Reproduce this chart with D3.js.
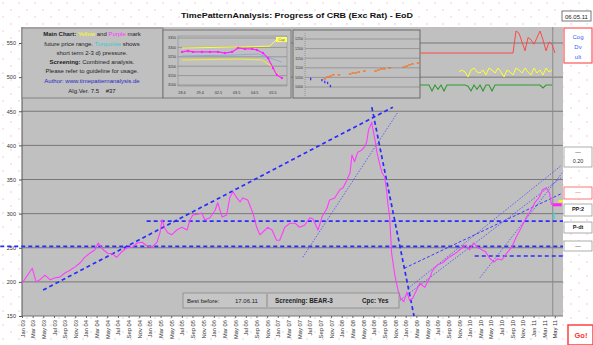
<!DOCTYPE html>
<html>
<head>
<meta charset="utf-8">
<script src="https://cdn.jsdelivr.net/npm/d3@7"></script>
<style>
body { margin: 0; background: #fff; }
svg { display: block; font-family: "Liberation Sans", Arial, sans-serif; }
</style>
</head>
<body>
<svg id="chart" width="593" height="345"></svg>
<script>
// ---------- data ----------
const yTicks = [150, 200, 250, 300, 350, 400, 450, 500, 550];
const tickYears = ["03", "04", "05", "06", "07", "08", "09", "10", "11"];
const tickMonths = ["Jan", "Mar", "May", "Jul", "Sep", "Nov"];

// CRB (exchange rate adjusted), decimal year / value
const crbT = [2003.00,2003.08,2003.16,2003.22,2003.28,2003.36,2003.44,2003.52,2003.59,2003.67,2003.75,2003.83,2003.91,2003.98,
  2004.06,2004.14,2004.19,2004.27,2004.34,2004.41,2004.48,2004.56,2004.64,2004.73,2004.80,2004.88,2004.95,
  2005.03,2005.11,2005.16,2005.19,2005.23,2005.28,2005.34,2005.42,2005.50,2005.58,2005.63,2005.67,2005.75,2005.81,2005.86,2005.94,
  2006.02,2006.06,2006.13,2006.20,2006.25,2006.30,2006.36,2006.41,2006.45,2006.53,2006.61,2006.67,2006.72,2006.80,2006.84,2006.91,2006.98,
  2007.03,2007.11,2007.19,2007.27,2007.34,2007.42,2007.50,2007.55,2007.63,2007.69,2007.77,2007.81,2007.89,2007.97,
  2008.02,2008.08,2008.13,2008.16,2008.20,2008.25,2008.31,2008.36,2008.39,2008.42,2008.47,2008.48,2008.52,2008.55,2008.59,2008.63,2008.67,2008.70,2008.72,2008.75,2008.78,2008.83,2008.88,2008.92,2008.97,
  2009.02,2009.06,2009.11,2009.17,2009.22,2009.30,2009.38,2009.42,2009.50,2009.58,2009.66,2009.73,2009.81,2009.88,2009.94,
  2010.00,2010.06,2010.13,2010.19,2010.25,2010.31,2010.38,2010.44,2010.50,2010.58,2010.66,2010.73,2010.81,2010.89,2010.94,
  2011.02,2011.09,2011.14,2011.20,2011.25,2011.28];
const crbV = [198,209,220,200,203,210,203,206,207,213,217,222,228,236,
  242,247,257,247,242,241,236,244,250,251,257,258,253,
  251,258,273,291,279,272,269,276,280,276,291,298,299,301,291,294,
  305,316,295,298,324,332,323,317,323,320,301,280,269,276,280,276,261,
  261,280,286,286,280,283,294,292,276,295,308,320,323,335,
  338,349,360,386,376,390,393,398,405,423,434,427,408,390,374,360,354,335,316,294,242,210,188,176,171,
  185,173,176,188,198,192,207,217,225,228,235,239,244,250,254,
  247,257,250,247,244,235,229,234,232,242,251,266,280,295,302,
  316,324,335,338,330,313];

// trend lines [t1, v1, t2, v2]
const thickTrends = [[2003.33, 188, 2008.80, 456], [2008.47, 456, 2009.13, 150]];
const mediumTrends = [[2008.98, 220, 2011.45, 330]];
const thinTrends = [[2007.39, 236, 2008.88, 449], [2009.06, 192, 2011.44, 371],
  [2008.91, 173, 2011.45, 354], [2010.16, 206, 2011.45, 360]];
const levelLines = [[2002.66, 252], [2004.95, 289], [2010.08, 238]];

// future price range marks (yellow / purple / turquoise)
const fcYellow = [2011.39, 2011.46, 318];
const fcPurple = [2011.30, 2011.44, 313];
const fcTurq = [2011.32, 302, 292];

// inset 1: last days
const in1Labels = ["28.4", "29.4", "02.5", "03.5", "04.5", "05.5"];
const in1Ticks = [3100, 3150, 3200, 3250, 3300, 3350];
const in1MagX = [0, 0.33, 0.6, 1.1, 1.54, 1.98, 2.36, 2.75, 3.08, 3.46, 3.85, 4.12, 4.45, 4.73, 5.0, 5.22, 5.49];
const in1MagV = [3276, 3281, 3276, 3276, 3276, 3276, 3270, 3276, 3297, 3292, 3292, 3286, 3270, 3243, 3190, 3153, 3137];
const in1YelUpX = [0, 3.19, 4.84, 5.27];
const in1YelUpV = [3297, 3302, 3307, 3350];
const in1YelLoX = [0, 3.19, 4.4, 4.9, 5.3, 5.49];
const in1YelLoV = [3233, 3238, 3233, 3201, 3153, 3132];
const in1BlueX = [0, 3.0, 4.2, 4.8, 5.49];
const in1BlueV = [3254, 3260, 3265, 3244, 3222];

// inset 2: pattern projection
const in2Ticks = [1000, 1050, 1100, 1150, 1200, 1250];
const in2OrangeX = [7, 8, 9, 10, 12, 16, 17, 18, 19, 21, 25, 26, 27, 28, 30, 35, 36, 37, 38, 40];
const in2OrangeV = [1042, 1052, 1057, 1063, 1063, 1068, 1073, 1073, 1078, 1083, 1083, 1089, 1094, 1094, 1099, 1104, 1109, 1115, 1120, 1125];
const in2BlueX = [2, 6, 7, 8, 9];
const in2BlueV = [1042, 1036, 1026, 1021, 1005];

// screening strips (daily levels)
const redLvl = [0,0,0,0,0,0,0,0,0,0,0,0,0,0,0,0,0,0,0,0,0,0,0,0,0,0,0,0,0,0,0,0,10,9,5,1,7,6,4,7,10,6,1,5,4,0];
const yelLvl = [null,null,null,null,null,null,null,null,null,null,null,null,null,
  5,7,5,0,7,9,5,4,7,2,9,7,4,9,5,0,7,5,2,9,7,4,9,5,2,9,4,7,2,9,5,7,null];
const grnLvl = [1,1,1,1,0,1,0.3,1,0,1,1,1,1,1,1,1,0.8,0,1,0.3,1,0,1,1,0,1,1,1,1,1,1,1,1,1,1,1,1,1,1,1,1,0.5,1,1,1,null];

// ---------- drawing ----------
const svg = d3.select("#chart");
const W = 593, H = 345;
const L = 22, R = 563, T = 27, B = 316;

const defs = svg.append("defs");
const pat = defs.append("pattern").attr("id", "dots")
  .attr("width", 16).attr("height", 14).attr("patternUnits", "userSpaceOnUse");
pat.append("circle").attr("cx", 3).attr("cy", 3).attr("r", 0.7).attr("fill", "#f1b3c8");
pat.append("circle").attr("cx", 11).attr("cy", 10).attr("r", 0.7).attr("fill", "#f1b3c8");
svg.append("rect").attr("width", W).attr("height", H).attr("fill", "#fff");
svg.append("rect").attr("width", W).attr("height", H).attr("fill", "url(#dots)");

const x = d3.scaleLinear().domain([2003, 2011.46]).range([L, R]);
const y = d3.scaleLinear().domain([150, 550]).range([B, 43]);

// plot area
svg.append("rect").attr("x", L).attr("y", T).attr("width", R - L).attr("height", B - T)
  .attr("fill", "#c0c0c0");

// grid lines
svg.append("g").selectAll("line").data(yTicks.filter(d => d > 150)).join("line")
  .attr("x1", L).attr("x2", R).attr("y1", d => y(d)).attr("y2", d => y(d))
  .attr("stroke", "#6f6f6f").attr("stroke-width", 0.9);

// forecast column separator
svg.append("line").attr("x1", x(2011.30)).attr("x2", x(2011.30)).attr("y1", T).attr("y2", B)
  .attr("stroke", "#8a8a8a").attr("stroke-width", 1);

// y axis
const yAxis = svg.append("g").attr("transform", `translate(${L},0)`)
  .call(d3.axisLeft(y).tickValues(yTicks).tickSize(3).tickFormat(d3.format("d")));
yAxis.select(".domain").remove();
yAxis.selectAll("line").attr("stroke", "#555");
yAxis.selectAll("text").attr("font-size", 5.5).attr("fill", "#333").attr("x", -6);
svg.append("line").attr("x1", L).attr("x2", L).attr("y1", T).attr("y2", B).attr("stroke", "#555");
svg.append("line").attr("x1", L).attr("x2", R).attr("y1", B).attr("y2", B).attr("stroke", "#777");

// x axis labels
const xTickLabels = [];
tickYears.forEach(yy => tickMonths.forEach(m => xTickLabels.push(m + " " + yy)));
const nTicks = 51;
const xTickT = d3.range(nTicks).map(i => 2003 + i / 6);
const xAxis = svg.append("g").attr("transform", `translate(0,${B})`)
  .call(d3.axisBottom(x).tickValues(xTickT).tickSize(2).tickFormat((d, i) => xTickLabels[i]));
xAxis.select(".domain").remove();
xAxis.selectAll("line").attr("stroke", "#666");
xAxis.selectAll("text")
  .attr("transform", "rotate(-90)")
  .attr("text-anchor", "end")
  .attr("x", -4).attr("y", 0).attr("dy", "0.35em")
  .attr("font-size", 5.8).attr("fill", "#333");

// level lines
svg.append("g").selectAll("line").data(levelLines).join("line")
  .attr("x1", d => x(d[0])).attr("x2", R)
  .attr("y1", d => y(d[1])).attr("y2", d => y(d[1]))
  .attr("stroke", "#2b2bff").attr("stroke-width", 1.6).attr("stroke-dasharray", "4,3");

// trend lines
const trendG = svg.append("g");
trendG.selectAll(".thin").data(thinTrends).join("line")
  .attr("x1", d => x(d[0])).attr("y1", d => y(d[1])).attr("x2", d => x(d[2])).attr("y2", d => y(d[3]))
  .attr("stroke", "#4848ff").attr("stroke-width", 0.8).attr("stroke-dasharray", "1.5,1.5");
trendG.selectAll(".med").data(mediumTrends).join("line")
  .attr("x1", d => x(d[0])).attr("y1", d => y(d[1])).attr("x2", d => x(d[2])).attr("y2", d => y(d[3]))
  .attr("stroke", "#3a3aff").attr("stroke-width", 1).attr("stroke-dasharray", "3,2");

// price line
const crb = crbT.map((t, i) => [t, crbV[i]]);
svg.append("path").datum(crb)
  .attr("d", d3.line().x(d => x(d[0])).y(d => y(d[1])))
  .attr("fill", "none").attr("stroke", "#ff3cff").attr("stroke-width", 1.1).attr("stroke-linejoin", "round");

trendG.selectAll(".thick").data(thickTrends).join("line")
  .attr("x1", d => x(d[0])).attr("y1", d => y(d[1])).attr("x2", d => x(d[2])).attr("y2", d => y(d[3]))
  .attr("stroke", "#2b2bff").attr("stroke-width", 1.7).attr("stroke-dasharray", "4,3");

// future price range marks
svg.append("line").attr("x1", x(fcYellow[0])).attr("x2", x(fcYellow[1]))
  .attr("y1", y(fcYellow[2])).attr("y2", y(fcYellow[2])).attr("stroke", "#ffff00").attr("stroke-width", 2);
svg.append("line").attr("x1", x(fcPurple[0])).attr("x2", x(fcPurple[1]))
  .attr("y1", y(fcPurple[2])).attr("y2", y(fcPurple[2])).attr("stroke", "#ff22ff").attr("stroke-width", 3);
svg.append("line").attr("x1", x(fcTurq[0])).attr("x2", x(fcTurq[0]))
  .attr("y1", y(fcTurq[1])).attr("y2", y(fcTurq[2])).attr("stroke", "#33dddd").attr("stroke-width", 1.5);

// ---------- info text box ----------
svg.append("rect").attr("x", L).attr("y", 28).attr("width", 141).attr("height", 70)
  .attr("fill", "#c0c0c0").attr("stroke", "#777").attr("stroke-width", 0.8);
const info = svg.append("g").attr("font-size", 6).attr("text-anchor", "middle").attr("fill", "#222");
const l1 = info.append("text").attr("x", 92).attr("y", 36);
l1.append("tspan").attr("font-weight", "bold").text("Main Chart: ");
l1.append("tspan").attr("fill", "#ffff00").text("Yellow");
l1.append("tspan").text(" and ");
l1.append("tspan").attr("fill", "#ff33ff").text("Purple");
l1.append("tspan").text(" mark");
const l2 = info.append("text").attr("x", 92).attr("y", 46);
l2.append("tspan").text("future price range. ");
l2.append("tspan").attr("fill", "#33cccc").text("Turquoise");
l2.append("tspan").text(" shows");
info.append("text").attr("x", 92).attr("y", 55).text("short term 2-3 d) pressure.");
const l4 = info.append("text").attr("x", 92).attr("y", 64);
l4.append("tspan").attr("font-weight", "bold").text("Screening:");
l4.append("tspan").text(" Combined analysis.");
info.append("text").attr("x", 92).attr("y", 73).text("Please refer to guideline for usage.");
info.append("text").attr("x", 92).attr("y", 83).attr("fill", "#2727c8").text("Author: www.timepatternanalysis.de");
info.append("text").attr("x", 92).attr("y", 93).text("Alg.Ver. 7.5\u00a0\u00a0\u00a0\u00a0#37");

// ---------- inset 1 ----------
svg.append("rect").attr("x", 163).attr("y", 30).attr("width", 128).attr("height", 68)
  .attr("fill", "#c0c0c0").attr("stroke", "#666").attr("stroke-width", 0.8);
const i1x = d3.scaleLinear().domain([0, 5]).range([182, 273]);
const i1y = d3.scaleLinear().domain([3100, 3350]).range([85, 38]);
svg.append("rect").attr("x", 178).attr("y", 36).attr("width", 109).attr("height", 50)
  .attr("fill", "#c0c0c0").attr("stroke", "#8a8a8a").attr("stroke-width", 0.6);
svg.append("g").selectAll("line").data(in1Ticks).join("line")
  .attr("x1", 178).attr("x2", 287).attr("y1", d => i1y(d)).attr("y2", d => i1y(d))
  .attr("stroke", "#7a7a7a").attr("stroke-width", 0.6);
svg.append("g").selectAll("text").data(in1Ticks).join("text")
  .attr("x", 176).attr("y", d => i1y(d) + 1.3).attr("text-anchor", "end")
  .attr("font-size", 3.6).attr("fill", "#333").text(d => d);
svg.append("g").selectAll("text").data(in1Labels).join("text")
  .attr("x", (d, i) => i1x(i)).attr("y", 94).attr("text-anchor", "middle")
  .attr("font-size", 3.8).attr("fill", "#333").text(d => d);
const i1line = d3.line().x(d => i1x(d[0])).y(d => i1y(d[1]));
const zip = (a, b) => a.map((v, i) => [v, b[i]]);
svg.append("path").datum(zip(in1YelUpX, in1YelUpV)).attr("d", i1line)
  .attr("fill", "none").attr("stroke", "#ffff33").attr("stroke-width", 1);
svg.append("path").datum(zip(in1YelLoX, in1YelLoV)).attr("d", i1line)
  .attr("fill", "none").attr("stroke", "#eeee33").attr("stroke-width", 1);
svg.append("path").datum(zip(in1BlueX, in1BlueV)).attr("d", i1line)
  .attr("fill", "none").attr("stroke", "#8fa6e0").attr("stroke-width", 1);
svg.append("path").datum(zip(in1MagX, in1MagV)).attr("d", i1line)
  .attr("fill", "none").attr("stroke", "#ff22ff").attr("stroke-width", 1.2);
svg.append("g").selectAll("circle").data(zip(in1MagX, in1MagV)).join("circle")
  .attr("cx", d => i1x(d[0])).attr("cy", d => i1y(d[1])).attr("r", 1.2).attr("fill", "#ff22ff");
svg.append("rect").attr("x", 276).attr("y", 37).attr("width", 11).attr("height", 5).attr("fill", "#ffff66");
svg.append("text").attr("x", 281.5).attr("y", 41).attr("text-anchor", "middle")
  .attr("font-size", 3.6).attr("fill", "#666").text("Cap");

// ---------- inset 2 ----------
svg.append("rect").attr("x", 293).attr("y", 30).attr("width", 127).attr("height", 68)
  .attr("fill", "#c0c0c0").attr("stroke", "#555").attr("stroke-width", 0.8);
const i2x = d3.scaleLinear().domain([0, 40]).range([305, 418]);
const i2y = d3.scaleLinear().domain([1000, 1250]).range([87, 39]);
svg.append("line").attr("x1", 305).attr("x2", 305).attr("y1", 33).attr("y2", 96)
  .attr("stroke", "#777").attr("stroke-width", 0.6).attr("stroke-dasharray", "1,1");
svg.append("g").selectAll("line").data(in2Ticks).join("line")
  .attr("x1", 305).attr("x2", 420).attr("y1", d => i2y(d)).attr("y2", d => i2y(d))
  .attr("stroke", "#7a7a7a").attr("stroke-width", 0.6);
svg.append("g").selectAll("text").data(in2Ticks).join("text")
  .attr("x", 303).attr("y", d => i2y(d) + 1.3).attr("text-anchor", "end")
  .attr("font-size", 3.6).attr("fill", "#333").text(d => d);
svg.append("g").selectAll("line").data(zip(in2OrangeX, in2OrangeV)).join("line")
  .attr("x1", d => i2x(d[0]) - 1.3).attr("x2", d => i2x(d[0]) + 1.3)
  .attr("y1", d => i2y(d[1])).attr("y2", d => i2y(d[1]))
  .attr("stroke", "#ff6a10").attr("stroke-width", 1.3);
svg.append("g").selectAll("line").data(zip(in2BlueX, in2BlueV)).join("line")
  .attr("x1", d => i2x(d[0])).attr("x2", d => i2x(d[0]))
  .attr("y1", d => i2y(d[1]) - 1.2).attr("y2", d => i2y(d[1]) + 1.2)
  .attr("stroke", "#3030ff").attr("stroke-width", 1.3);

// ---------- screening strips ----------
const sx = d3.scaleLinear().domain([0, 45]).range([420, 555]);
const redY = d3.scaleLinear().domain([0, 10]).range([53, 31]);
const yelY = d3.scaleLinear().domain([0, 10]).range([77, 67]);
const grnY = d3.scaleLinear().domain([0, 1]).range([91, 85]);
svg.append("path").datum(redLvl)
  .attr("d", d3.line().x((d, i) => sx(i)).y(d => redY(d)))
  .attr("fill", "none").attr("stroke", "#ff4848").attr("stroke-width", 1);
svg.append("path").datum(yelLvl)
  .attr("d", d3.line().defined(d => d !== null).x((d, i) => sx(i)).y(d => yelY(d)))
  .attr("fill", "none").attr("stroke", "#ffff30").attr("stroke-width", 1);
svg.append("path").datum(grnLvl)
  .attr("d", d3.line().defined(d => d !== null).x((d, i) => sx(i)).y(d => grnY(d)))
  .attr("fill", "none").attr("stroke", "#2f9a2f").attr("stroke-width", 1.1);

// ---------- title & boxes ----------
svg.append("text").attr("x", 297).attr("y", 18).attr("text-anchor", "middle")
  .attr("font-size", 8).attr("font-weight", "bold").attr("fill", "#111")
  .attr("textLength", 232).attr("lengthAdjust", "spacingAndGlyphs")
  .text("TimePatternAnalysis: Progress of CRB (Exc Rat) - EoD");

svg.append("rect").attr("x", 562).attr("y", 11).attr("width", 29).attr("height", 10)
  .attr("fill", "#fff").attr("stroke", "#555").attr("stroke-width", 0.8);
svg.append("text").attr("x", 576.5).attr("y", 18.5).attr("text-anchor", "middle")
  .attr("font-size", 6).attr("fill", "#222").text("06.05.11");

svg.append("rect").attr("x", 564).attr("y", 28).attr("width", 28).attr("height", 35)
  .attr("fill", "#fff").attr("stroke", "#ff5555").attr("stroke-width", 1.2);
svg.append("g").selectAll("text").data(["Cog", "Dv", "ult"]).join("text")
  .attr("x", 578).attr("y", (d, i) => 39 + i * 10).attr("text-anchor", "middle")
  .attr("font-size", 6).attr("fill", "#3a5bff").text(d => d);

const sideBoxes = [
  { y: 147, h: 20, lines: ["\u2014", "0.20"], stroke: "#999", color: "#333" },
  { y: 187, h: 12, lines: ["\u2014"], stroke: "#ff5555", color: "#ff4444" },
  { y: 204, h: 12, lines: ["PP:2"], stroke: "#999", color: "#222" },
  { y: 222, h: 11, lines: ["P-dt"], stroke: "#999", color: "#222" },
  { y: 241, h: 10, lines: ["\u2014"], stroke: "#999", color: "#333" }
];
sideBoxes.forEach(b => {
  svg.append("rect").attr("x", 564).attr("y", b.y).attr("width", 28).attr("height", b.h)
    .attr("fill", "#fff").attr("stroke", b.stroke).attr("stroke-width", 0.8);
  b.lines.forEach((t, i) => {
    svg.append("text").attr("x", 578).attr("y", b.y + 7 + i * 9).attr("text-anchor", "middle")
      .attr("font-size", 5.5).attr("font-weight", t.startsWith("P") ? "bold" : "normal")
      .attr("fill", b.color).text(t);
  });
});

svg.append("rect").attr("x", 568).attr("y", 325).attr("width", 25).attr("height", 20)
  .attr("fill", "#fff").attr("stroke", "#ff4040").attr("stroke-width", 1.5);
svg.append("text").attr("x", 581).attr("y", 338).attr("text-anchor", "middle")
  .attr("font-size", 7.5).attr("font-weight", "bold").attr("fill", "#ff3030").text("Go!");

// bottom status box
svg.append("rect").attr("x", 183).attr("y", 293).attr("width", 216).attr("height", 15)
  .attr("fill", "#c6c6c6").attr("stroke", "#888").attr("stroke-width", 0.8);
svg.append("line").attr("x1", 267).attr("x2", 267).attr("y1", 294).attr("y2", 307).attr("stroke", "#888");
svg.append("text").attr("x", 187).attr("y", 303).attr("font-size", 6).attr("fill", "#222").text("Best before:");
svg.append("text").attr("x", 235).attr("y", 303).attr("font-size", 6).attr("fill", "#222").text("17.06.11");
svg.append("text").attr("x", 275).attr("y", 303).attr("font-size", 6.3).attr("font-weight", "bold")
  .attr("fill", "#222").text("Screening: BEAR-3");
svg.append("text").attr("x", 362).attr("y", 303).attr("font-size", 6.3).attr("font-weight", "bold")
  .attr("fill", "#222").text("Cpc: Yes");
</script>
</body>
</html>
